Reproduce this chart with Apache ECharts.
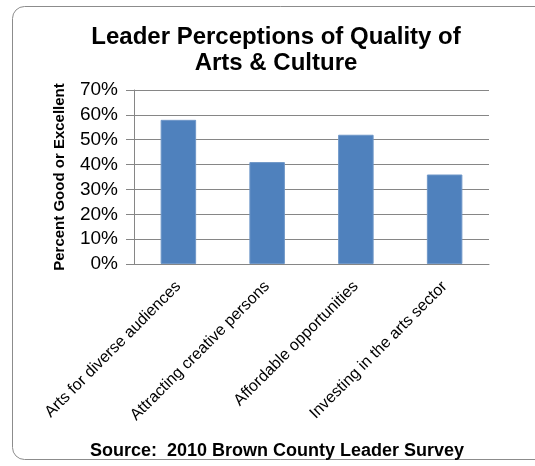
<!DOCTYPE html>
<html>
<head>
<meta charset="utf-8">
<script src="https://cdn.jsdelivr.net/npm/echarts@6/dist/echarts.min.js"></script>
<style>
html, body { margin: 0; padding: 0; background: #fff; }
#chart { width: 535px; height: 466px; }
</style>
</head>
<body>
<div id="chart"></div>
<script>
const categories = ["Arts for diverse audiences", "Attracting creative persons", "Affordable opportunities", "Investing in the arts sector"];
const values = [58, 41, 52, 36];
const yTicks = [0, 10, 20, 30, 40, 50, 60, 70];

const font = "'Liberation Sans', Arial, sans-serif";
const chart = echarts.init(document.getElementById("chart"));
chart.setOption({
    animation: false,
    textStyle: { fontFamily: font },
    title: {
        text: "Leader Perceptions of Quality of\nArts & Culture",
        left: 271,
        top: 19,
        textAlign: "center",
        textStyle: { fontSize: 24, fontWeight: "bold", color: "#000", lineHeight: 26, fontFamily: font },
    },
    graphic: [
        {
            type: "rect",
            shape: { x: 12.5, y: 6.5, width: 540, height: 453, r: 12 },
            style: { fill: "none", stroke: "#8c8c8c", lineWidth: 1 },
            silent: true,
        },
        {
            type: "text",
            x: 277,
            y: 442,
            style: { text: "Source:  2010 Brown County Leader Survey", fontSize: 18, fontWeight: "bold", fill: "#000", align: "center", fontFamily: font },
        },
    ],
    grid: { left: 134, right: 46, top: 90, bottom: 202 },
    xAxis: {
        type: "category",
        data: categories,
        axisLine: { lineStyle: { color: "#868686" } },
        axisTick: { show: false },
        axisLabel: { rotate: 45, interval: 0, fontSize: 16, color: "#000", margin: 20, fontFamily: font },
    },
    yAxis: {
        type: "value",
        min: yTicks[0],
        max: yTicks[yTicks.length - 1],
        interval: 10,
        name: "Percent Good or Excellent",
        nameLocation: "middle",
        nameGap: 67,
        nameTextStyle: { fontSize: 15, fontWeight: "bold", color: "#000", fontFamily: font },
        axisLine: { show: true, lineStyle: { color: "#868686" } },
        axisTick: { show: true, length: 8, lineStyle: { color: "#868686" } },
        axisLabel: { formatter: "{value}%", fontSize: 19, color: "#000", margin: 16, fontFamily: font },
        splitLine: { lineStyle: { color: "#868686" } },
    },
    series: [{
        type: "bar",
        data: values,
        barWidth: "40%",
        itemStyle: { color: "#4f81bd", borderColor: "#6f97c8", borderWidth: 1 },
    }],
});
</script>
</body>
</html>
